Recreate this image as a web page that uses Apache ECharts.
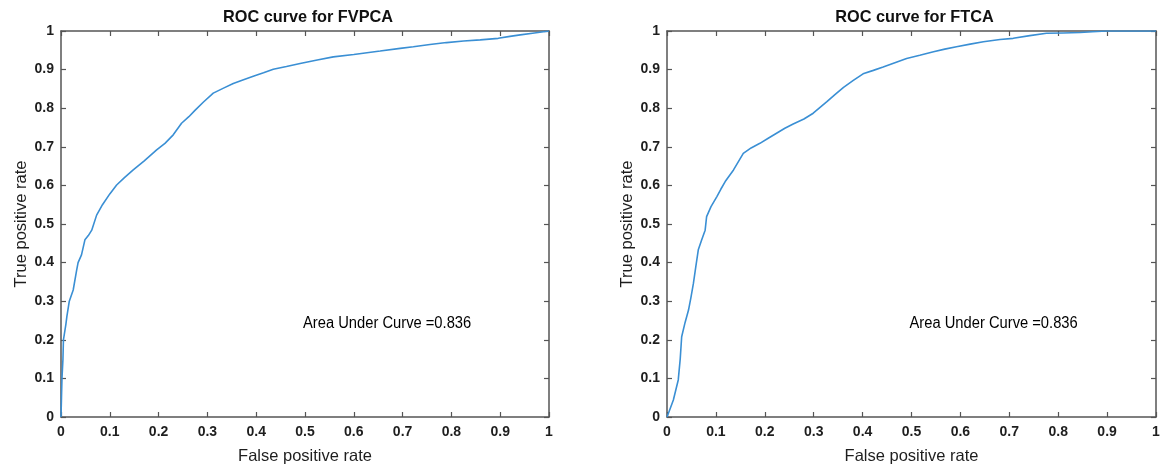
<!DOCTYPE html>
<html>
<head>
<meta charset="utf-8">
<script src="https://cdn.jsdelivr.net/npm/echarts@6/dist/echarts.min.js"></script>
<style>
html,body{margin:0;padding:0;background:#fff;}
#chart{width:1169px;height:474px;}
</style>
</head>
<body>
<div id="chart"></div>
<script>
// ---- data ----
const titles = ['ROC curve for FVPCA', 'ROC curve for FTCA'];
const xAxisTitle = 'False positive rate';
const yAxisTitle = 'True positive rate';
const aucText = 'Area Under Curve =0.836';
const aucPos = [0.496, 0.243];

const fvpcaFpr = [0,0.001,0.002,0.004,0.005,0.010,0.012,0.017,0.025,0.032,0.035,0.042,0.049,0.056,0.063,0.073,0.085,0.100,0.114,0.130,0.148,0.170,0.196,0.213,0.230,0.247,0.262,0.275,0.292,0.312,0.333,0.353,0.374,0.394,0.415,0.435,0.462,0.490,0.525,0.558,0.600,0.654,0.695,0.722,0.756,0.790,0.825,0.859,0.896,0.920,0.941,0.970,1.000];
const fvpcaTpr = [0,0.050,0.100,0.150,0.200,0.240,0.260,0.300,0.329,0.380,0.400,0.420,0.459,0.470,0.484,0.523,0.550,0.578,0.601,0.620,0.640,0.663,0.692,0.709,0.731,0.761,0.778,0.795,0.816,0.839,0.852,0.864,0.874,0.883,0.892,0.901,0.908,0.916,0.925,0.933,0.939,0.948,0.955,0.959,0.965,0.970,0.974,0.977,0.981,0.986,0.990,0.995,1.000];

const ftcaFpr = [0,0.006,0.013,0.018,0.023,0.027,0.030,0.037,0.044,0.049,0.054,0.059,0.064,0.071,0.078,0.081,0.090,0.102,0.110,0.119,0.136,0.156,0.172,0.190,0.207,0.224,0.241,0.258,0.280,0.299,0.313,0.327,0.344,0.361,0.381,0.401,0.422,0.442,0.466,0.490,0.517,0.545,0.568,0.592,0.620,0.647,0.681,0.708,0.742,0.776,0.810,0.845,0.870,0.899,1.000];
const ftcaTpr = [0,0.020,0.044,0.070,0.096,0.150,0.208,0.245,0.277,0.310,0.346,0.390,0.433,0.459,0.484,0.519,0.545,0.571,0.590,0.610,0.640,0.683,0.697,0.709,0.722,0.735,0.748,0.759,0.772,0.787,0.802,0.817,0.836,0.854,0.872,0.889,0.898,0.907,0.918,0.929,0.937,0.946,0.953,0.959,0.966,0.972,0.978,0.981,0.988,0.994,0.995,0.996,0.998,1.000,1.000];

const zip = (a, b) => a.map((v, i) => [v, b[i]]);
const curves = [zip(fvpcaFpr, fvpcaTpr), zip(ftcaFpr, ftcaTpr)];

// ---- styling ----
const axisColor = '#555555';
const labelColor = '#1e1e1e';
const lineColor = '#3a8fd4';
const font = 'Arial, "Liberation Sans", Helvetica, sans-serif';

const grids = [
  {left: 61, top: 31, width: 488, height: 386},
  {left: 667, top: 31, width: 489, height: 386}
];

const xAxes = [], yAxes = [], series = [], titleArr = [];
grids.forEach((g, i) => {
  titleArr.push({
    text: titles[i],
    left: g.left + g.width / 2 - 2,
    textAlign: 'center',
    top: 5,
    textStyle: {fontFamily: font, fontSize: 16.3, fontWeight: 'bold', color: '#111111'}
  });
  const base = {
    type: 'value', gridIndex: i, min: 0, max: 1, interval: 0.1,
    splitLine: {show: false},
    axisLine: {show: true, onZero: false, lineStyle: {color: axisColor, width: 1.5}},
    axisTick: {show: true, inside: true, length: 5, lineStyle: {color: axisColor, width: 1.2}}
  };
  const fmt = v => (Math.abs(v - 1) < 1e-9 ? '1' : (Math.abs(v) < 1e-9 ? '0' : v.toFixed(1)));
  xAxes.push(Object.assign({}, base, {
    position: 'bottom',
    name: xAxisTitle, nameLocation: 'middle', nameGap: 31,
    nameTextStyle: {fontFamily: font, fontSize: 16.5, color: labelColor},
    axisLabel: {formatter: fmt, margin: 8, fontFamily: font, fontSize: 14, fontWeight: 'bold', color: labelColor}
  }));
  xAxes.push(Object.assign({}, base, {position: 'top', axisLabel: {show: false}}));
  yAxes.push(Object.assign({}, base, {
    position: 'left',
    name: yAxisTitle, nameLocation: 'middle', nameGap: 31,
    nameTextStyle: {fontFamily: font, fontSize: 16.5, color: labelColor},
    axisLabel: {formatter: fmt, margin: 7, fontFamily: font, fontSize: 14, fontWeight: 'bold', color: labelColor}
  }));
  yAxes.push(Object.assign({}, base, {position: 'right', axisLabel: {show: false}}));

  series.push({
    type: 'line', xAxisIndex: i * 2, yAxisIndex: i * 2,
    data: curves[i], showSymbol: false, symbol: 'none', smooth: false,
    lineStyle: {color: lineColor, width: 1.6}, animation: false
  });
});

const chart = echarts.init(document.getElementById('chart'), null, {renderer: 'canvas'});
chart.setOption({
  backgroundColor: '#ffffff',
  animation: false,
  title: titleArr,
  grid: grids,
  xAxis: xAxes,
  yAxis: yAxes,
  series: series
});

// annotation placed through the axes' own scales
const annots = grids.map((g, i) => {
  const p = chart.convertToPixel({xAxisIndex: i * 2, yAxisIndex: i * 2}, aucPos);
  return {
    type: 'text', x: p[0], y: p[1], scaleX: 0.92, scaleY: 1, silent: true,
    style: {text: aucText, fontFamily: font, fontSize: 16, fill: '#000',
      textAlign: 'left', textVerticalAlign: 'middle', verticalAlign: 'middle'}
  };
});
chart.setOption({graphic: annots});
</script>
</body>
</html>
